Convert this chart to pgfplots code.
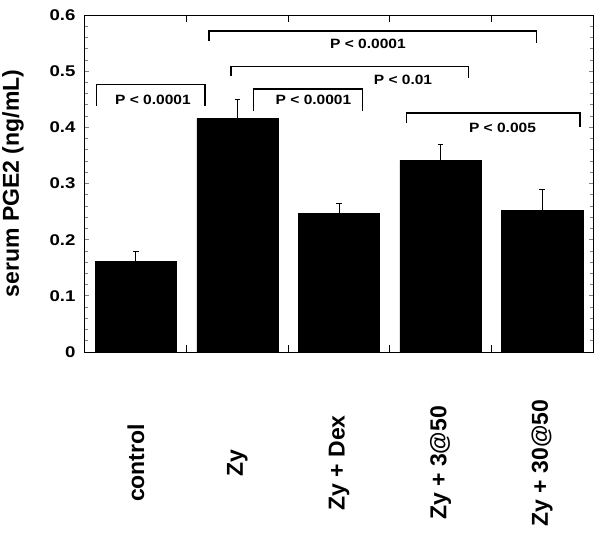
\documentclass[border=0pt]{standalone}
\usepackage{fontspec}
\setmainfont{Liberation Sans}
\newfontfamily\widefont{Liberation Sans}[FakeStretch=1.15]
\newfontfamily\tickfont{Liberation Sans}[FakeStretch=1.2]
\usepackage{pgfplots}
\pgfplotsset{compat=1.18}
\begin{document}
\begin{tikzpicture}
\begin{axis}[
  at={(0,0)}, anchor=south west,
  scale only axis, width=508pt, height=337pt,
  xmin=-0.5, xmax=4.5, ymin=0, ymax=0.6,
  clip=false,
  axis line style={line width=1pt},
  tick pos=both, tick align=inside,
  xtick={0,1,2,3,4},
  xticklabels={control,Zy,Zy + Dex,Zy + 3@50,Zy + 30@50},
  xtick style={draw=none},
  xticklabel style={yshift=-111pt, rotate=90, anchor=center, font=\bfseries\fontsize{23}{23}\selectfont},
  extra x ticks={0.5,1.5,2.5,3.5},
  extra x tick labels={},
  extra x tick style={major tick length=7pt, xtick style={draw=black, line width=0.8pt}},
  ytick={0,0.1,0.2,0.3,0.4,0.5,0.6},
  yticklabels={0,0.1,0.2,0.3,0.4,0.5,0.6},
  minor y tick num=4,
  ytick style={line width=0.8pt},
  yticklabel style={font=\tickfont\bfseries\fontsize{15.5}{15.5}\selectfont, xshift=-6pt},
  ylabel={serum PGE2 (ng/mL)},
  ylabel style={at={(axis description cs:-0.142,0.5)}, anchor=center, font=\bfseries\fontsize{23}{23}\selectfont},
]
\addplot[ybar, bar width=0.8, bar shift=0pt, fill=black, draw=black,
  error bars/.cd, y dir=plus, y explicit,
  error bar style={line width=1pt, black},
  error mark options={rotate=90, mark size=2.8pt, line width=1.2pt, black}]
  coordinates {
  (0,0.162) +- (0,0.017)
  (1,0.416) +- (0,0.034)
  (2,0.247) +- (0,0.018)
  (3,0.341) +- (0,0.028)
  (4,0.252) +- (0,0.038)
  };
\addplot[black, line width=1.6pt, mark=none] coordinates {(-0.385,0.438) (-0.385,0.4766) (0.681,0.4766) (0.681,0.438)};
\addplot[black, line width=1.6pt, mark=none] coordinates {(0.72,0.554) (0.72,0.5716) (3.945,0.5716) (3.945,0.550)};
\addplot[black, line width=1.6pt, mark=none] coordinates {(0.937,0.492) (0.937,0.508) (3.273,0.508) (3.273,0.4885)};
\addplot[black, line width=1.6pt, mark=none] coordinates {(1.157,0.429) (1.157,0.468) (2.233,0.468) (2.233,0.429)};
\addplot[black, line width=1.6pt, mark=none] coordinates {(2.666,0.408) (2.666,0.425) (4.372,0.425) (4.372,0.401)};
\begin{scope}[every node/.style={font=\widefont\bfseries\fontsize{13.5}{13.5}\selectfont, anchor=center}]
\node at (axis cs:0.169,0.4495) {P < 0.0001};
\node at (axis cs:2.285,0.548) {P < 0.0001};
\node at (axis cs:2.63,0.484) {P < 0.01};
\node at (axis cs:1.749,0.449) {P < 0.0001};
\node at (axis cs:3.609,0.399) {P < 0.005};
\end{scope}
\end{axis}
\pgfresetboundingbox
\path (-85pt,-181pt) rectangle (517pt,352pt);
\end{tikzpicture}
\end{document}
